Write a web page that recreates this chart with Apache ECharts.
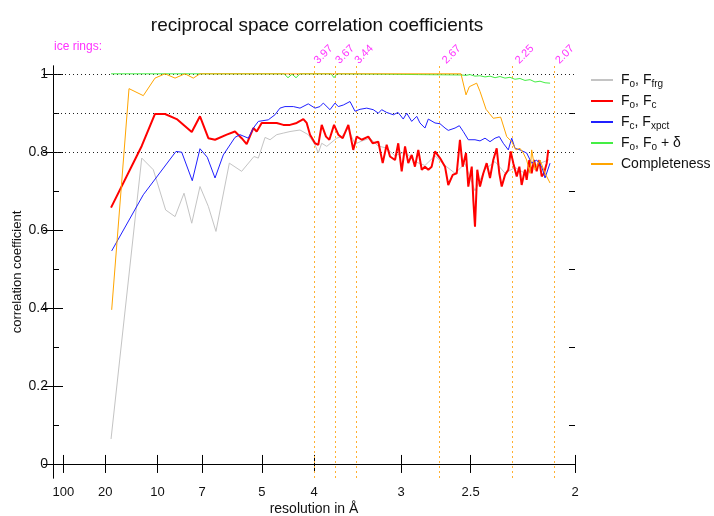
<!DOCTYPE html>
<html>
<head>
<meta charset="utf-8">
<script src="https://cdn.jsdelivr.net/npm/echarts@6/dist/echarts.min.js"></script>
<style>
  html, body { margin: 0; padding: 0; background: #fff; }
  #main { width: 714px; height: 516px; }
</style>
</head>
<body>
<div id="main"></div>
<script>
// x = 1/d (1/Å), y = correlation coefficient
var resTicks = [100, 20, 10, 7, 5, 4, 3, 2.5, 2];
var iceRings = [3.97, 3.67, 3.44, 2.67, 2.25, 2.07];
var ccTicks = [0, 0.2, 0.4, 0.6, 0.8, 1];
var ccMinor = [0.1, 0.3, 0.5, 0.7, 0.9];
var refLines = [0.8, 0.9, 1];

var grayPts = [[0.0556,0.064],[0.0850,0.784],[0.0961,0.754],[0.1079,0.651],[0.1169,0.634],[0.1255,0.694],[0.1329,0.617],[0.1408,0.711],[0.1488,0.660],[0.1561,0.596],[0.1689,0.771],[0.1807,0.750],[0.1925,0.788],[0.1967,0.784],[0.2031,0.837],[0.2079,0.831],[0.2143,0.844],[0.2206,0.848],[0.2270,0.852],[0.2366,0.856],[0.2445,0.844],[0.2510,0.818],[0.2541,0.797],[0.2574,0.822],[0.2622,0.814],[0.2717,0.835],[0.2765,0.839],[0.2826,0.860],[0.2893,0.820],[0.2960,0.828],[0.3036,0.835],[0.3113,0.815],[0.3190,0.810],[0.3276,0.790],[0.3372,0.800],[0.3467,0.775],[0.3563,0.765],[0.3659,0.790],[0.3755,0.765],[0.3851,0.745],[0.3946,0.770],[0.4042,0.700],[0.4138,0.755],[0.4234,0.775],[0.4330,0.745],[0.4425,0.760],[0.4521,0.745],[0.4617,0.765],[0.4751,0.780]];

var redPts = [[0.0556,0.657],[0.0850,0.815],[0.0977,0.897],[0.1073,0.897],[0.1185,0.884],[0.1329,0.851],[0.1408,0.891],[0.1488,0.835],[0.1552,0.831],[0.1664,0.844],[0.1743,0.852],[0.1807,0.835],[0.1855,0.820],[0.1919,0.861],[0.1951,0.852],[0.1999,0.874],[0.2062,0.874],[0.2143,0.874],[0.2206,0.869],[0.2270,0.869],[0.2334,0.874],[0.2398,0.884],[0.2430,0.874],[0.2462,0.844],[0.2510,0.822],[0.2541,0.818],[0.2574,0.869],[0.2615,0.839],[0.2647,0.831],[0.2692,0.869],[0.2733,0.844],[0.2775,0.835],[0.2829,0.869],[0.2876,0.805],[0.2909,0.839],[0.2957,0.831],[0.3020,0.839],[0.3062,0.822],[0.3116,0.826],[0.3158,0.771],[0.3196,0.818],[0.3228,0.788],[0.3276,0.779],[0.3307,0.822],[0.3340,0.750],[0.3372,0.814],[0.3403,0.771],[0.3436,0.792],[0.3467,0.762],[0.3499,0.805],[0.3532,0.754],[0.3563,0.762],[0.3595,0.754],[0.3627,0.762],[0.3659,0.801],[0.3707,0.784],[0.3755,0.762],[0.3786,0.715],[0.3829,0.741],[0.3867,0.745],[0.3898,0.831],[0.3924,0.762],[0.3956,0.797],[0.3978,0.711],[0.4011,0.762],[0.4026,0.677],[0.4042,0.608],[0.4064,0.754],[0.4090,0.711],[0.4122,0.745],[0.4154,0.771],[0.4186,0.733],[0.4217,0.779],[0.4250,0.809],[0.4275,0.745],[0.4298,0.711],[0.4330,0.741],[0.4361,0.754],[0.4384,0.801],[0.4409,0.771],[0.4442,0.737],[0.4467,0.762],[0.4489,0.715],[0.4521,0.754],[0.4537,0.728],[0.4562,0.779],[0.4585,0.745],[0.4607,0.779],[0.4633,0.750],[0.4658,0.779],[0.4681,0.737],[0.4703,0.745],[0.4729,0.771],[0.4744,0.805]];

var bluePts = [[0.0562,0.546],[0.0865,0.690],[0.1178,0.801],[0.1233,0.799],[0.1334,0.726],[0.1408,0.808],[0.1478,0.786],[0.1552,0.733],[0.1631,0.792],[0.1743,0.837],[0.1791,0.844],[0.1871,0.835],[0.1919,0.861],[0.1967,0.878],[0.2062,0.882],[0.2126,0.895],[0.2174,0.912],[0.2222,0.916],[0.2302,0.916],[0.2366,0.912],[0.2445,0.923],[0.2510,0.912],[0.2557,0.916],[0.2589,0.925],[0.2653,0.908],[0.2701,0.925],[0.2733,0.916],[0.2781,0.920],[0.2845,0.929],[0.2893,0.904],[0.2941,0.909],[0.3005,0.912],[0.3068,0.908],[0.3116,0.899],[0.3148,0.908],[0.3196,0.901],[0.3260,0.895],[0.3305,0.901],[0.3355,0.884],[0.3388,0.899],[0.3436,0.878],[0.3484,0.891],[0.3515,0.874],[0.3563,0.861],[0.3595,0.884],[0.3659,0.874],[0.3707,0.872],[0.3755,0.861],[0.3786,0.855],[0.3851,0.861],[0.3892,0.867],[0.3930,0.852],[0.3978,0.831],[0.4042,0.831],[0.4090,0.828],[0.4138,0.835],[0.4186,0.826],[0.4234,0.835],[0.4275,0.839],[0.4313,0.822],[0.4361,0.805],[0.4394,0.835],[0.4425,0.809],[0.4473,0.805],[0.4537,0.797],[0.4585,0.771],[0.4633,0.779],[0.4681,0.762],[0.4713,0.733],[0.4761,0.771]];

var greenPts = [[0.0556,1.0],[0.1408,1.0],[0.2213,1.0],[0.2251,0.990],[0.2289,0.999],[0.2328,0.990],[0.2366,1.0],[0.2663,1.0],[0.2692,0.990],[0.2720,1.0],[0.3200,0.999],[0.3500,0.998],[0.3908,0.997],[0.3956,0.996],[0.3994,0.998],[0.4042,0.994],[0.4090,0.995],[0.4138,0.992],[0.4186,0.994],[0.4234,0.990],[0.4282,0.993],[0.4330,0.989],[0.4377,0.991],[0.4425,0.986],[0.4473,0.988],[0.4521,0.983],[0.4569,0.985],[0.4617,0.979],[0.4665,0.981],[0.4713,0.977],[0.4761,0.976]];

var orangePts = [[0.0562,0.395],[0.0728,0.962],[0.0865,0.944],[0.0977,0.989],[0.1073,1.0],[0.1169,0.989],[0.1264,1.0],[0.1344,0.989],[0.1408,1.0],[0.2200,1.0],[0.3000,1.0],[0.3908,1.0],[0.3956,0.946],[0.3988,0.967],[0.4058,0.976],[0.4090,0.955],[0.4148,0.909],[0.4217,0.886],[0.4288,0.889],[0.4346,0.839],[0.4394,0.826],[0.4435,0.805],[0.4473,0.809],[0.4505,0.797],[0.4537,0.779],[0.4553,0.762],[0.4569,0.745],[0.4585,0.805],[0.4617,0.754],[0.4665,0.779],[0.4713,0.745],[0.4761,0.720]];

var FONT = 'Liberation Sans';
var myChart = echarts.init(document.getElementById('main'));

// legend texts with subscripts
var legendText = {
    'Fo,Ffrg': '{f|F}{s|o}{n|, F}{s|frg}',
    'Fo,Fc': '{f|F}{s|o}{n|, F}{s|c}',
    'Fc,Fxpct': '{f|F}{s|c}{n|, F}{s|xpct}',
    'Fo,Fo+d': '{f|F}{s|o}{n|, F}{s|o}{n| + δ}',
    'Completeness': '{f|Completeness}'
};

var invRes = resTicks.map(function (d) { return 1 / d; });
var invIce = iceRings.map(function (d) { return 1 / d; });

function line(name, data, color, width) {
    return {
        name: name,
        type: 'line',
        data: data,
        showSymbol: false,
        symbol: 'none',
        lineStyle: { color: color, width: width },
        itemStyle: { color: color },
        animation: false
    };
}

var grayS = line('Fo,Ffrg', grayPts, '#c4c4c4', 1);
grayS.markLine = {
    silent: true,
    symbol: 'none',
    z: 1,
    label: { show: false },
    data: refLines.map(function (v) {
        return { yAxis: v, lineStyle: { color: '#222', type: [1, 3], width: 1 } };
    }).concat(invIce.map(function (v) {
        return { xAxis: v, lineStyle: { color: '#ffb030', type: [2, 3], width: 1 } };
    }))
};

option = {
    backgroundColor: '#fff',
    textStyle: { fontFamily: FONT },
    title: {
        text: 'reciprocal space correlation coefficients',
        left: 312,
        textAlign: 'center',
        top: 11,
        textStyle: { fontSize: 19, fontWeight: 'normal', color: '#111', fontFamily: FONT }
    },
    graphic: [{
        type: 'text',
        left: 54,
        top: 41,
        style: { text: 'ice rings:', fill: '#ff33ff', fontSize: 12, fontFamily: FONT }
    }],
    legend: {
        orient: 'vertical',
        left: 586,
        top: 68,
        icon: 'rect',
        itemWidth: 22,
        itemHeight: 2,
        itemGap: 5,
        formatter: function (name) { return legendText[name]; },
        textStyle: {
            rich: {
                f: { fontSize: 14, color: '#111', lineHeight: 18, padding: [0, 0, 0, 3], fontFamily: FONT },
                n: { fontSize: 14, color: '#111', lineHeight: 18, fontFamily: FONT },
                s: { fontSize: 10, color: '#111', lineHeight: 10, verticalAlign: 'bottom', fontFamily: FONT }
            }
        }
    },
    grid: {
        left: 53,
        right: 139,
        top: 66,
        bottom: 38,
        containLabel: false,
        outerBoundsMode: 'none'
    },
    xAxis: [{
        type: 'value',
        position: 'bottom',
        min: 0,
        max: 0.5,
        name: 'resolution in Å',
        nameLocation: 'middle',
        nameGap: 24,
        nameMoveOverlap: false,
        nameTextStyle: { fontSize: 14, color: '#111', fontFamily: FONT },
        axisLine: { show: true, lineStyle: { color: '#000', width: 1 } },
        axisTick: { show: true, inside: true, length: 9, customValues: invRes, lineStyle: { color: '#000' } },
        axisLabel: {
            customValues: invRes,
            margin: 8,
            fontSize: 13,
            color: '#111',
            formatter: function (v) { return String(+(1 / v).toFixed(2)); }
        },
        splitLine: { show: false }
    }, {
        type: 'value',
        position: 'top',
        min: 0,
        max: 0.5,
        axisLine: { show: true, lineStyle: { color: '#000', width: 1 } },
        axisTick: { show: true, inside: true, length: 9, customValues: invRes, lineStyle: { color: '#000' } },
        axisLabel: { show: false },
        splitLine: { show: false }
    }, {
        type: 'value',
        position: 'top',
        min: 0,
        max: 0.5,
        axisLine: { show: false },
        axisTick: { show: false },
        axisLabel: {
            customValues: invIce,
            rotate: 45,
            margin: 4,
            fontSize: 11,
            color: '#ff33ff',
            formatter: function (v) { return (1 / v).toFixed(2); }
        },
        splitLine: { show: false }
    }],
    yAxis: [{
        type: 'value',
        position: 'left',
        min: -0.036,
        max: 1.02,
        name: 'correlation coefficient',
        nameLocation: 'middle',
        nameGap: 29,
        nameMoveOverlap: false,
        nameTextStyle: { fontSize: 13, color: '#111', fontFamily: FONT },
        axisLine: { show: true, lineStyle: { color: '#000', width: 1 } },
        axisTick: { show: true, inside: true, length: 10, customValues: ccTicks, lineStyle: { color: '#000' } },
        axisLabel: { customValues: ccTicks, margin: 5, fontSize: 14, color: '#111' },
        splitLine: { show: false }
    }, {
        type: 'value',
        position: 'right',
        min: -0.036,
        max: 1.02,
        axisLine: { show: true, lineStyle: { color: '#000', width: 1 } },
        axisTick: { show: true, inside: true, length: 10, customValues: ccTicks, lineStyle: { color: '#000' } },
        axisLabel: { show: false },
        splitLine: { show: false }
    }, {
        type: 'value',
        position: 'left',
        min: -0.036,
        max: 1.02,
        axisLine: { show: false },
        axisTick: { show: true, inside: true, length: 6, customValues: ccMinor, lineStyle: { color: '#000' } },
        axisLabel: { show: false },
        splitLine: { show: false }
    }, {
        type: 'value',
        position: 'right',
        min: -0.036,
        max: 1.02,
        axisLine: { show: false },
        axisTick: { show: true, inside: true, length: 6, customValues: ccMinor, lineStyle: { color: '#000' } },
        axisLabel: { show: false },
        splitLine: { show: false }
    }],
    series: [
        grayS,
        line('Fo,Fc', redPts, '#ff0000', 2),
        line('Fc,Fxpct', bluePts, '#2020ff', 1),
        line('Fo,Fo+d', greenPts, '#44ee44', 1),
        line('Completeness', orangePts, '#ffa500', 1)
    ]
};

myChart.setOption(option);
</script>
</body>
</html>
